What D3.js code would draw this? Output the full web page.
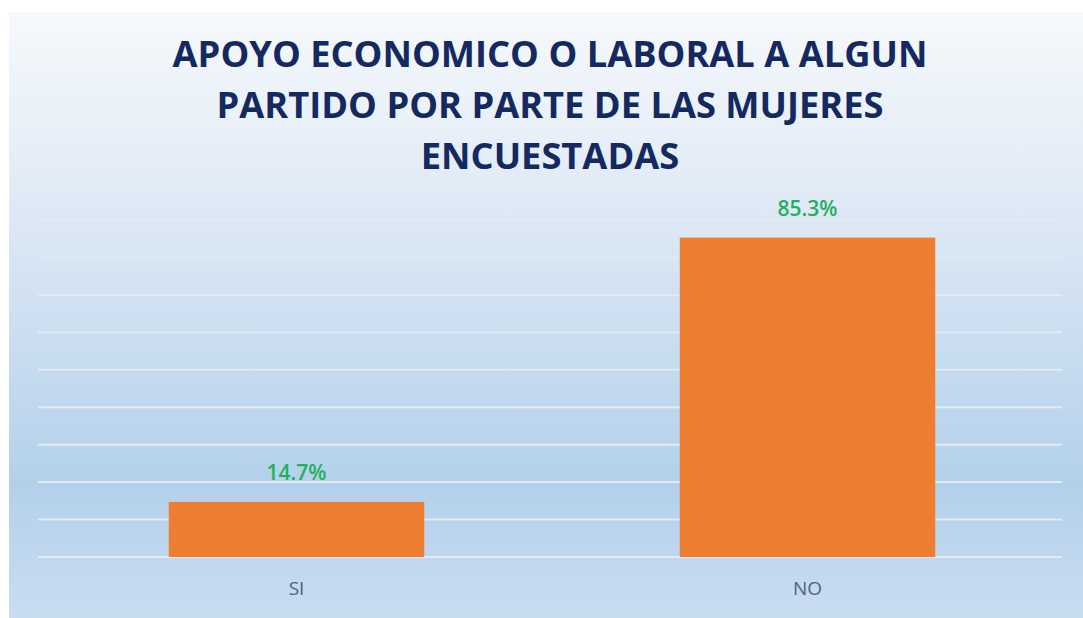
<!DOCTYPE html>
<html>
<head>
<meta charset="utf-8">
<script src="https://cdn.jsdelivr.net/npm/d3@7"></script>
<style>
  html, body { margin: 0; padding: 0; background: #ffffff; }
  svg { display: block; }
</style>
</head>
<body>
<svg id="chart" width="1083" height="618"></svg>
<script>
const titleLines = ["APOYO ECONOMICO O LABORAL A ALGUN", "PARTIDO POR PARTE DE LAS MUJERES", "ENCUESTADAS"];
const categories = ["SI", "NO"];
const values = [14.7, 85.3];
const gridTicks = [0, 10, 20, 30, 40, 50, 60, 70, 80, 90];

const svg = d3.select("#chart");
const W = 1083, H = 618;

const defs = svg.append("defs");
const grad = defs.append("linearGradient").attr("id", "bg")
  .attr("x1", 0).attr("y1", 0).attr("x2", 0).attr("y2", 1);
[["0%", "#f6f9fc"], ["35%", "#dde8f5"], ["78%", "#b3d0eb"], ["100%", "#c9ddf1"]]
  .forEach(([o, c]) => grad.append("stop").attr("offset", o).attr("stop-color", c));

svg.append("rect").attr("x", 9).attr("y", 12).attr("width", W - 9).attr("height", H - 12)
  .attr("fill", "url(#bg)");

const plot = { left: 38, right: 1062, top: 220, bottom: 557 };

const x = d3.scaleBand().domain(categories).range([plot.left + 3, plot.right + 1])
  .paddingInner(0.5).paddingOuter(0.25);
const y = d3.scaleLinear().domain([0, 90]).range([plot.bottom, plot.top]);

// gridlines
svg.append("g").selectAll("line").data(gridTicks).join("line")
  .attr("x1", plot.left).attr("x2", plot.right)
  .attr("y1", d => y(d)).attr("y2", d => y(d))
  .attr("stroke", "#e4eaf1").attr("stroke-width", 2);

// bars
svg.append("g").selectAll("rect").data(values).join("rect")
  .attr("x", (d, i) => x(categories[i]))
  .attr("width", x.bandwidth())
  .attr("y", d => y(d))
  .attr("height", d => y(0) - y(d))
  .attr("fill", "#ed7d31");

// value labels
svg.append("g").selectAll("text").data(values).join("text")
  .attr("x", (d, i) => x(categories[i]) + x.bandwidth() / 2)
  .attr("y", d => y(d) - 22)
  .attr("text-anchor", "middle")
  .attr("font-family", "'Open Sans', sans-serif")
  .attr("font-size", 21)
  .attr("font-weight", 600)
  .attr("fill", "#22b05a")
  .text(d => d.toFixed(1) + "%");

// x axis labels
const xAxis = d3.axisBottom(x).tickSize(0).tickPadding(25);
const gx = svg.append("g").attr("transform", `translate(0,${plot.bottom})`).call(xAxis);
gx.select(".domain").remove();
gx.selectAll("text")
  .attr("font-family", "'Open Sans', sans-serif")
  .attr("font-size", 19)
  .attr("fill", "#56607a");

// title
const title = svg.append("g").selectAll("text").data(titleLines).join("text")
  .attr("x", 550)
  .attr("y", (d, i) => 67 + i * 51)
  .attr("text-anchor", "middle")
  .attr("font-family", "'Open Sans', sans-serif")
  .attr("font-weight", "bold")
  .attr("font-size", 34)
  .attr("fill", "#13295f")
  .text(d => d);
// match line 1 width (~755px) by scaling font size
const targetW = 755;
const n0 = title.nodes()[0];
const w0 = n0.getComputedTextLength();
const fs = 34 * targetW / w0;
title.attr("font-size", fs);
</script>
</body>
</html>
